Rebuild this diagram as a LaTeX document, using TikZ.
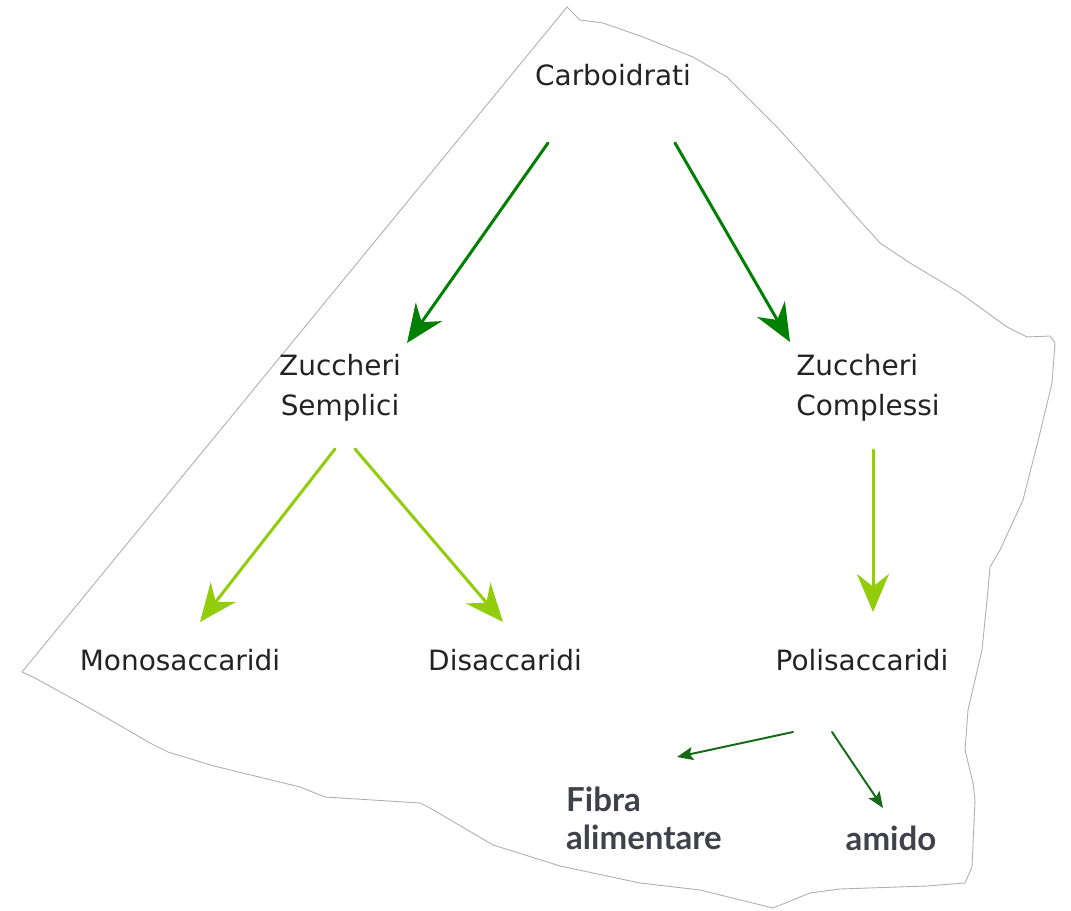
\documentclass[tikz,border=0pt]{standalone}
\usepackage{fontspec}
\usepackage{pgf,tikz}
\usetikzlibrary{arrows.meta}
\usetikzlibrary{calc}
\newfontfamily\vocefont{DejaVu Sans}
\newfontfamily\notafont{Lato}
\definecolor{verdescuro}{RGB}{0,128,0}
\definecolor{verdechiaro}{RGB}{145,205,10}
\definecolor{verdenota}{RGB}{20,105,20}
\definecolor{bordo}{RGB}{175,175,175}
\definecolor{testo}{RGB}{35,35,35}
\definecolor{testonota}{RGB}{65,65,75}
\tikzset{
voce/.style={inner sep=0pt,text=testo,font=\vocefont\fontsize{15.9}{22.8}\selectfont,align=center},
nota/.style={inner sep=0pt,text=testonota,font=\notafont\bfseries\fontsize{18.8}{21.6}\selectfont,align=left},
ramo/.style={line width=1.7pt,color=verdescuro,-{Stealth[length=0.76cm,width=0.64cm,inset=0.25cm]}},
ramochiaro/.style={ramo,color=verdechiaro},
ramosottile/.style={line width=1.1pt,color=verdenota,-{Stealth[length=0.32cm,width=0.26cm,inset=0.06cm]}}
}
\begin{document}
\begin{tikzpicture}[line cap=round,line join=round,x=0.02cm,y=-0.02cm]
\useasboundingbox (0,0) rectangle (1071,911);
%foglio strappato
\draw [line width=0.5pt,color=bordo,fill=white] (567,7) -- (580,20) -- (603,23) -- (643,37) -- (693,57) -- (727,77) -- (747,97) -- (777,127) -- (813,167) -- (853,213) -- (880,243) -- (910,263) -- (960,293) -- (1007,327) -- (1027,337) -- (1050,336) -- (1055,343) -- (1052,383) -- (1040,433) -- (1023,500) -- (1000,550) -- (990,567) -- (987,600) -- (982,650) -- (968,710) -- (965,750) -- (973,783) -- (975,800) -- (972,867) -- (965,883) -- (927,886) -- (840,889) -- (810,893) -- (773,908) -- (700,890) -- (640,883) -- (560,866) -- (525,855) -- (493,845) -- (430,808) -- (420,803) -- (325,797) -- (300,787) -- (214,766) -- (168,752) -- (150,743) -- (107,718) -- (75,700) -- (35,678) -- (22,672) -- cycle;
\node[voce] (carb) at (613,75) {Carboidrati};
\node[voce] (sempl) at (340,388) {Zuccheri\\Semplici};
\node[voce,align=left] (compl) at (868,388) {Zuccheri\\Complessi};
\node[voce] (mono) at (180,660) {Monosaccaridi};
\node[voce] (disa) at (505,660) {Disaccaridi};
\node[voce] (poli) at (862,660) {Polisaccaridi};
\node[nota] (fibra) at (644,818) {Fibra\\alimentare};
\node[nota] (amido) at (891,838) {amido};
\draw [ramo] ($(carb)+(-65,68)$) -- ($(sempl)+(67,-45)$);
\draw [ramo] ($(carb)+(62,68)$) -- ($(compl)+(-78,-46)$);
\draw [ramochiaro] ($(sempl)+(-5,61)$) -- ($(mono)+(20,-38)$);
\draw [ramochiaro] ($(sempl)+(15,61)$) -- ($(disa)+(-2,-38)$);
\draw [ramochiaro] ($(compl)+(5,62)$) -- ($(poli)+(11,-48)$);
\draw [ramosottile] ($(poli)+(-69,72)$) -- ($(fibra)+(33,-61)$);
\draw [ramosottile] ($(poli)+(-30,72)$) -- ($(amido)+(-8,-30)$);
\end{tikzpicture}
\end{document}
